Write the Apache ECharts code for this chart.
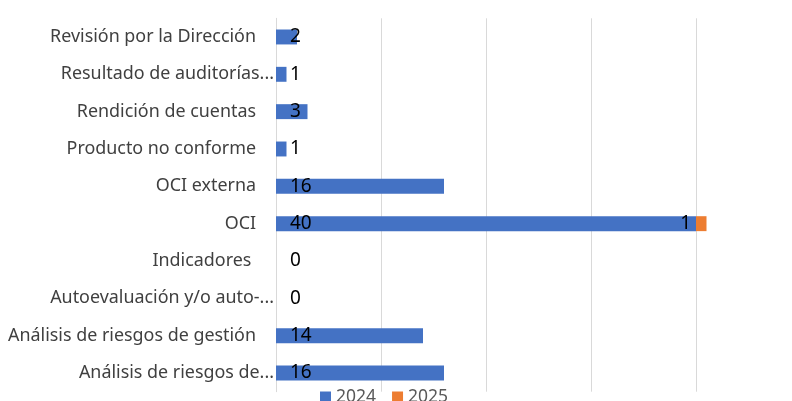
<!DOCTYPE html>
<html>
<head>
<meta charset="utf-8">
<script src="https://cdn.jsdelivr.net/npm/echarts@6/dist/echarts.min.js"></script>
<style>html,body{margin:0;padding:0;background:#fff;}#c{width:792px;height:401px;}</style>
</head>
<body>
<div id="c"></div>
<script>
var categories = ["Análisis de riesgos de...", "Análisis de riesgos de gestión", "Autoevaluación y/o auto-...", "Indicadores ", "OCI", "OCI externa", "Producto no conforme", "Rendición de cuentas", "Resultado de auditorías...", "Revisión por la Dirección"];
var values2024 = [16, 14, 0, 0, 40, 16, 1, 3, 1, 2];
var values2025 = [null, null, null, null, 1, null, null, null, null, null];
var seriesNames = ["2024", "2025"];

var chart = echarts.init(document.getElementById('c'));
chart.setOption({
  animation: false,
  grid: {left: 276, width: 525, top: 18.3, height: 373.4, containLabel: false, outerBoundsMode: 'none'},
  legend: {
    data: seriesNames, left: 315, top: 383, itemWidth: 11, itemHeight: 11, itemGap: 16,
    icon: 'rect', textStyle: {color: '#595959', fontSize: 17.5, fontFamily: 'Noto Sans'}
  },
  xAxis: {
    type: 'value', min: 0, max: 50, interval: 10,
    axisLabel: {show: false}, axisLine: {show: false}, axisTick: {show: false},
    splitLine: {lineStyle: {color: '#d9d9d9', width: 1}}
  },
  yAxis: {
    type: 'category', data: categories,
    axisTick: {show: false},
    axisLine: {show: true, lineStyle: {color: '#d9d9d9'}},
    axisLabel: {
      margin: 2, color: '#404040', fontSize: 17.9, fontFamily: 'Noto Sans',
      formatter: function (v) { return v.indexOf('...') >= 0 ? v : v + '{s|}'; },
      rich: {s: {width: 18}}
    }
  },
  series: [
    {
      name: seriesNames[0], type: 'bar', stack: 'a', data: values2024,
      barCategoryGap: '60%', itemStyle: {color: '#4472C4'},
      label: {show: true, position: 'insideLeft', distance: 14, color: '#000', fontSize: 19, fontFamily: 'Noto Sans'}
    },
    {
      name: seriesNames[1], type: 'bar', stack: 'a', data: values2025,
      barCategoryGap: '60%', itemStyle: {color: '#ED7D31'},
      label: {show: true, position: 'left', distance: 5, color: '#000', fontSize: 19, fontFamily: 'Noto Sans'}
    }
  ]
});
</script>
</body>
</html>
